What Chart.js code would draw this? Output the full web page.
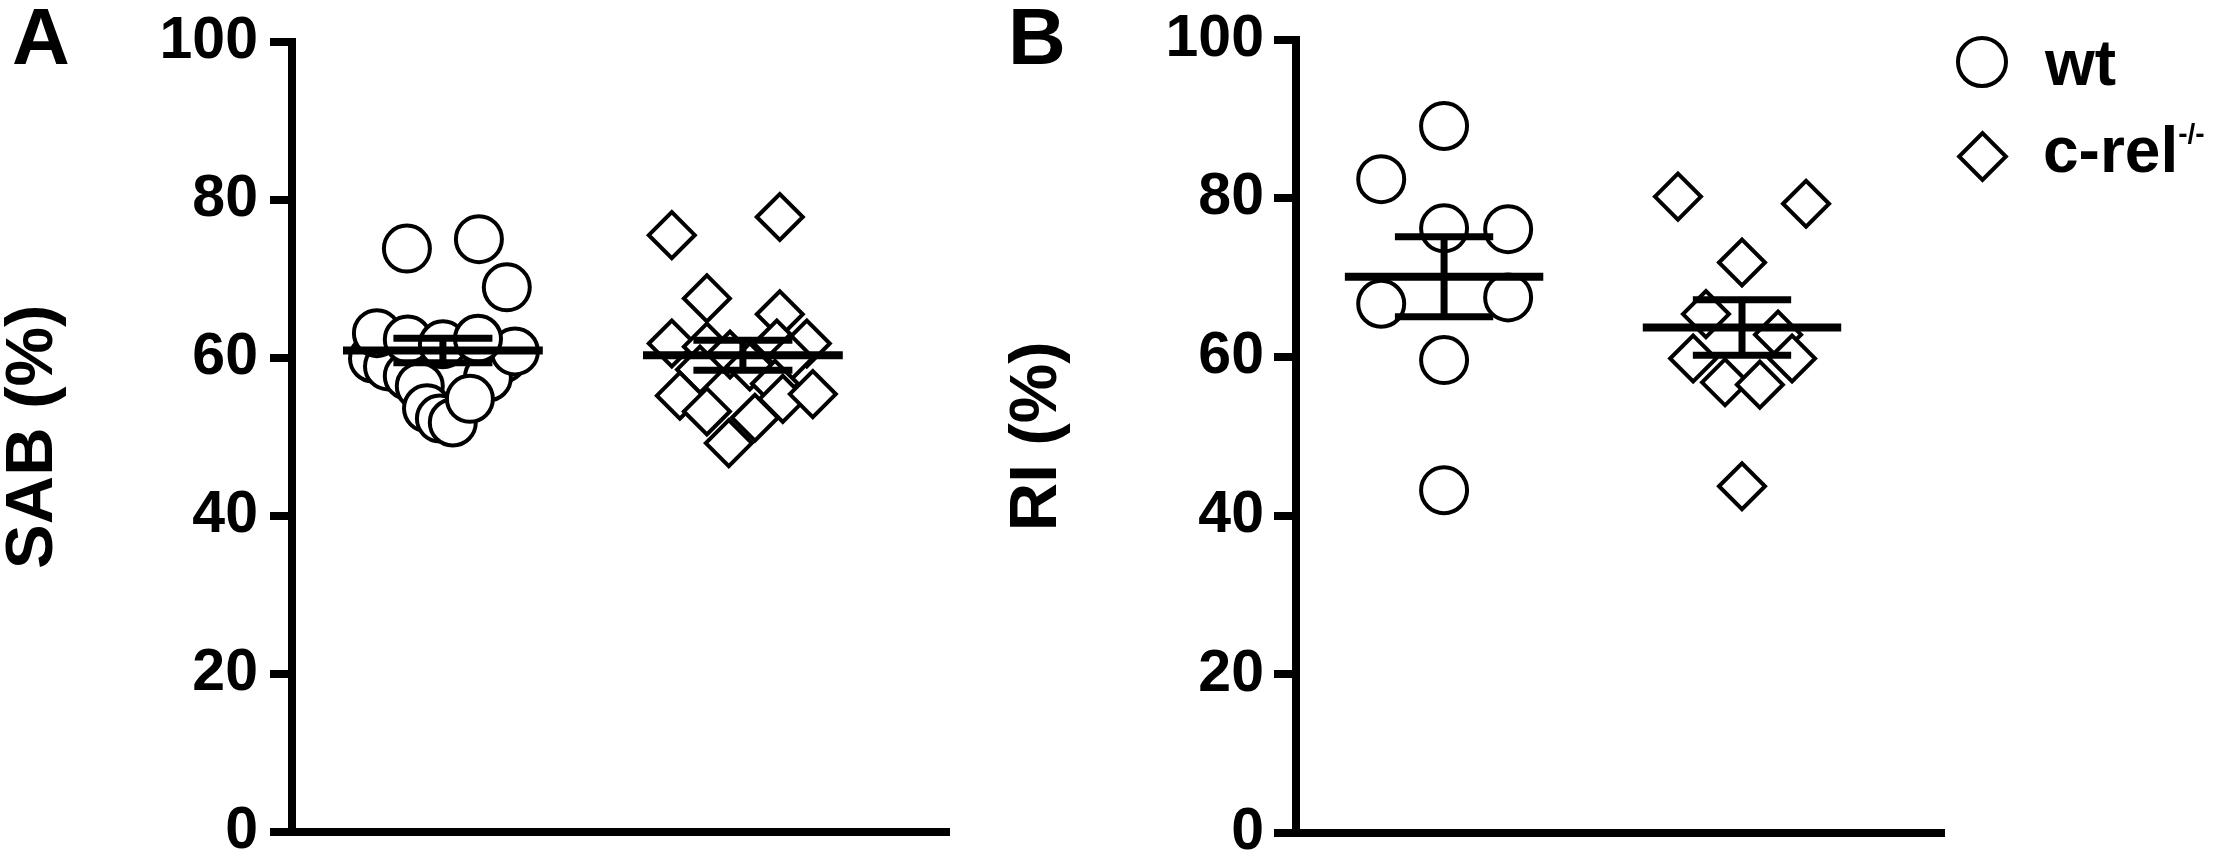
<!DOCTYPE html>
<html>
<head>
<meta charset="utf-8">
<script src="https://cdn.jsdelivr.net/npm/chart.js@4.4.1/dist/chart.umd.min.js"></script>
<style>
  body { margin: 0; width: 2230px; height: 859px; overflow: hidden; background: #fff;
         font-family: "Liberation Sans", Arial, sans-serif; font-weight: bold; color: #000; }
  .wrap { position: absolute; top: 0; width: 1000px; height: 900px; }
  .letter { position: absolute; top: -3px; font-size: 80px; line-height: 80px; }
  .lbl { position: absolute; font-size: 64px; line-height: 64px; white-space: nowrap; }
  .lbl sup { font-size: 28px; position: relative; top: -29px; vertical-align: baseline; }
  .circ { position: absolute; width: 44px; height: 44px; border: 4px solid #000; border-radius: 50%; }
  .diam { position: absolute; width: 29px; height: 29px; border: 4px solid #000; transform: rotate(45deg); }
</style>
</head>
<body>
<div class="wrap" style="left:0px"><canvas id="chartA"></canvas></div>
<div class="wrap" style="left:1004px"><canvas id="chartB"></canvas></div>
<div class="letter" style="left:12px">A</div>
<div class="letter" style="left:1008px">B</div>
<div class="circ" style="left:1956px;top:36px"></div>
<div class="lbl" style="left:2045px;top:31px">wt</div>
<div class="diam" style="left:1964px;top:138px"></div>
<div class="lbl" style="left:2043px;top:118px">c-rel<sup>-/-</sup></div>
<script>
// groups on the x axis (1 = wt, 2 = c-rel-/-)
const groups = ['wt', 'c-rel-/-'];
const yTicks = [0, 20, 40, 60, 80, 100];

// panel A: SAB (%)
const sabWt = [59.9, 58.9, 57.7, 56.4, 59.9, 57.5, 60.8, 63.1, 62.3, 61.7, 62.4,
               73.8, 75.0, 68.9, 53.6, 52.3, 51.8, 54.8];
const sabWtSpread = [-0.233, -0.183, -0.117, -0.077, 0.2, 0.15, 0.24, -0.22, -0.117, 0, 0.117,
                     -0.12, 0.12, 0.213, -0.053, -0.01, 0.033, 0.09];
const sabKo = [75.5, 77.8, 67.5, 65.5, 61.8, 61.4, 60.4, 61.8, 61.8, 60.0,
               58.9, 58.5, 56.7, 55.2, 53.2, 54.8, 55.4, 52.4, 49.2];
const sabKoSpread = [-0.237, 0.123, -0.12, 0.123, -0.237, -0.12, -0.043, 0.113, 0.213, 0.157,
                     0.023, -0.143, 0.107, -0.21, -0.12, 0.133, 0.233, 0.04, -0.047];
const sabMean = [60.9, 60.3];
const sabSem = [1.55, 1.9];

// panel B: RI (%)
const riWt = [89.1, 82.4, 76.2, 76.1, 66.7, 67.5, 59.6, 43.2];
const riWtSpread = [0, -0.211, 0, 0.215, -0.211, 0.215, 0, 0];
const riKo = [80.2, 79.3, 71.9, 65.4, 62.8, 59.8, 59.8, 56.8, 56.5, 43.7];
const riKoSpread = [-0.215, 0.215, 0, -0.121, 0.121, -0.164, 0.168, -0.057, 0.06, 0];
const riMean = [70.1, 63.7];
const riSem = [5.05, 3.5];

const MEAN_HALF = 0.333, CAP_HALF = 0.165;

function pts(values, spread, g) {
  return values.map((v, i) => ({ x: g + spread[i], y: v }));
}

function seg(a, b, w) {
  return { type: 'line', data: [a, b], showLine: true, pointRadius: 0, borderColor: '#000',
           borderWidth: w, borderCapStyle: 'butt', order: 0, parsing: false };
}

function summaryLines(mean, sem) {
  const out = [];
  mean.forEach((m, i) => {
    const g = i + 1, s = sem[i];
    out.push(seg({ x: g - MEAN_HALF, y: m }, { x: g + MEAN_HALF, y: m }, 8));
    out.push(seg({ x: g - CAP_HALF, y: m + s }, { x: g + CAP_HALF, y: m + s }, 7));
    out.push(seg({ x: g - CAP_HALF, y: m - s }, { x: g + CAP_HALF, y: m - s }, 7));
    out.push(seg({ x: g, y: m - s }, { x: g, y: m + s }, 7));
  });
  return out;
}

function marker(data, style, r) {
  return { data: data, pointStyle: style, pointRadius: r, pointHoverRadius: r,
           borderColor: '#000', backgroundColor: '#fff', borderWidth: 4, order: 1 };
}

function makeChart(id, p) {
  return new Chart(document.getElementById(id), {
    type: 'scatter',
    data: {
      datasets: summaryLines(p.mean, p.sem).concat([
        marker(pts(p.wt, p.wtSpread, 1), 'circle', 23),
        marker(pts(p.ko, p.koSpread, 2), 'rectRot', 23)
      ])
    },
    options: {
      responsive: true, maintainAspectRatio: false, animation: false,
      devicePixelRatio: 1,
      layout: { padding: { top: p.top, right: p.right, left: 0, bottom: 0 } },
      plugins: { legend: { display: false }, tooltip: { enabled: false } },
      events: [],
      scales: {
        x: {
          type: 'linear', min: p.xMin, max: p.xMax,
          ticks: { display: false },
          grid: { display: false, drawTicks: false },
          border: { display: true, width: 8, color: '#000' },
          afterFit: s => { s.height = 900 - p.bottom; }
        },
        y: {
          min: 0, max: 100,
          afterBuildTicks: s => { s.ticks = yTicks.map(v => ({ value: v })); },
          ticks: { color: '#000', padding: p.pad,
                   font: { family: 'Liberation Sans', weight: 'bold', size: 59, lineHeight: 1 } },
          grid: { drawOnChartArea: false, drawTicks: true, tickLength: 22, lineWidth: 8, color: '#000' },
          border: { display: true, width: 8, color: '#000' },
          title: { display: true, text: p.title, color: '#000', padding: 0,
                   font: { family: 'Liberation Sans', weight: 'bold', size: 67, lineHeight: 1 } },
          afterFit: s => { s.width = 292; }
        }
      }
    }
  });
}

makeChart('chartA', { wt: sabWt, wtSpread: sabWtSpread, ko: sabKo, koSpread: sabKoSpread,
  mean: sabMean, sem: sabSem, title: 'SAB (%)', top: 31, bottom: 832, right: 51,
  xMin: 0.497, xMax: 2.687, pad: 12 });
makeChart('chartB', { wt: riWt, wtSpread: riWtSpread, ko: riKo, koSpread: riKoSpread,
  mean: riMean, sem: riSem, title: 'RI (%)', top: 35, bottom: 833, right: 60,
  xMin: 0.503, xMax: 2.678, pad: 10 });
</script>
</body>
</html>
